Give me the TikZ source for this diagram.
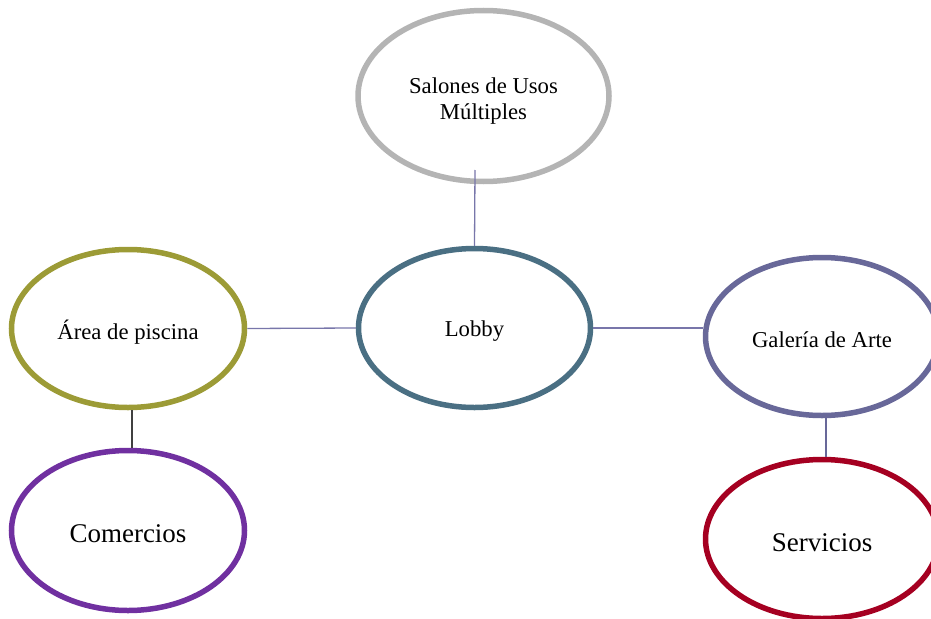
\documentclass[tikz,border=0pt]{standalone}
\usepackage{fontspec}
\setmainfont{Liberation Serif}
\usetikzlibrary{shapes.geometric}
\definecolor{cgray}{RGB}{180,180,180}
\definecolor{clobby}{RGB}{74,111,131}
\definecolor{carea}{RGB}{156,155,54}
\definecolor{cgal}{RGB}{104,104,153}
\definecolor{ccom}{RGB}{112,48,160}
\definecolor{cserv}{RGB}{165,0,33}
\definecolor{cline}{RGB}{120,118,170}
\definecolor{cdark}{RGB}{64,64,64}
\tikzset{
  bubble/.style={ellipse, draw, line width=5.5pt, fill=white, inner sep=0pt,
    minimum width=233pt, minimum height=159pt},
  lbl/.style={align=center, inner sep=0pt, yshift=-3.5pt,
    font=\fontsize{22.7}{26}\selectfont},
  biglbl/.style={lbl, font=\fontsize{27}{31}\selectfont},
  conn/.style={draw=cline, line width=1.3pt},
  conndark/.style={draw=cdark, line width=1.3pt}
}
\begin{document}
\begin{tikzpicture}[x=1pt,y=-1pt]
\useasboundingbox (0,0) rectangle (931,618);
\node[bubble, draw=cgray, minimum width=251pt, minimum height=171pt,
  label={[lbl, yshift=-1.5pt]center:Salones de Usos\\Múltiples}] (sal) at (483.5,96) {};
\node[bubble, draw=clobby, minimum width=232pt,
  label={[lbl]center:Lobby}] (lobby) at (474.5,328) {};
\node[bubble, draw=carea, minimum height=158pt,
  label={[lbl]center:Área de piscina}] (area) at (128,328.5) {};
\node[bubble, draw=ccom, minimum height=160pt,
  label={[biglbl]center:Comercios}] (com) at (128,530.5) {};
\node[bubble, draw=cgal, minimum height=158pt,
  label={[lbl]center:Galería de Arte}] (gal) at (822,336.5) {};
\node[bubble, draw=cserv,
  label={[biglbl]center:Servicios}] (serv) at (822,539) {};
\coordinate (sb) at (475,170);
\draw[conn] (sb) -- (lobby.north);
\draw[conn] (area.east) -- (lobby.west);
\draw[conn] (lobby.east) -- (gal.west |- lobby.east);
\draw[conndark] ([xshift=4pt]area.south) -- ([xshift=4pt]com.north);
\draw[conn, draw=cgal] ([xshift=4pt]gal.south) -- ([xshift=4pt]serv.north);
\end{tikzpicture}
\end{document}
